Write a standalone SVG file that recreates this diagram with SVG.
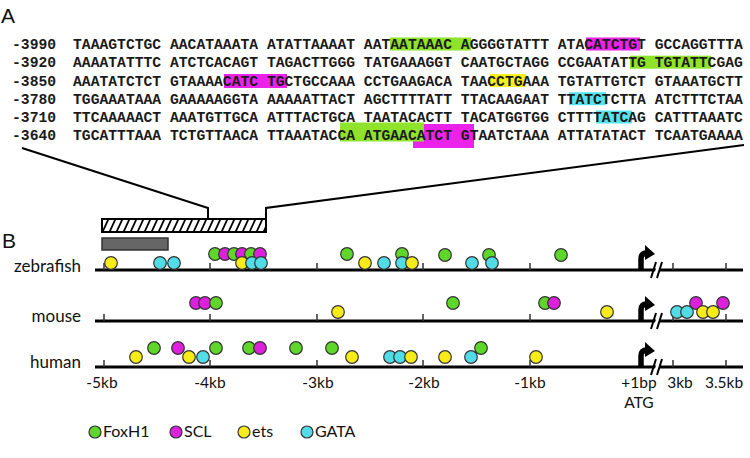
<svg xmlns="http://www.w3.org/2000/svg" width="750" height="458" viewBox="0 0 750 458">
<style>
.seq{font-family:"Liberation Mono","Courier New",monospace;font-weight:bold;font-size:14.7px;fill:#1a1a1a;white-space:pre}
.lab{font-family:Lato,"Open Sans",sans-serif;font-size:15.5px;fill:#111}
.tl{font-size:17px}
.lg{font-size:16px}
.big{font-family:"Liberation Sans",Arial,sans-serif;font-size:21px;fill:#111}
.hg{fill:#8fe32a}.hm{fill:#ea22ea}.hy{fill:#f4ef1e}.hc{fill:#55e3ee}
.c{stroke:#333;stroke-width:1.2}
.g{fill:#5fd62a}.m{fill:#dc20dc}.y{fill:#f7ec1a}.cy{fill:#52dce6}
.track{stroke:#000;stroke-width:3}
.tick{stroke:#333;stroke-width:1.5}
.conn{stroke:#000;stroke-width:2;fill:none}
</style>
<defs>
<pattern id="hatch" patternUnits="userSpaceOnUse" x="102" y="219" width="7" height="13">
<rect width="7" height="13" fill="#fff"/>
<path d="M0.5,13 L6.5,0" stroke="#000" stroke-width="1.8"/>
</pattern>
<g id="arrow">
<path d="M0,0 V-10 Q0,-16 6,-16" stroke="#000" stroke-width="5.5" fill="none"/>
<polygon points="4,-24 14,-15 4,-9" fill="#000"/>
</g>
<g id="brk">
<polygon points="653,278 658,262 662,262 657,278" fill="#fff"/>
<path d="M651,278 L656,262 M657,278 L662,262" stroke="#000" stroke-width="2"/>
</g>
</defs>
<rect width="750" height="458" fill="#fff"/>

<g id="panelA">
<text class="big" x="1" y="23">A</text>
<g id="highlights">
<rect class="hg" x="390" y="37.5" width="81" height="13"/>
<rect class="hm" x="586" y="37.5" width="54" height="13"/>
<rect class="hg" x="630" y="55.7" width="81" height="13"/>
<rect class="hm" x="224" y="74" width="63" height="14"/>
<rect class="hy" x="490" y="74" width="36" height="13"/>
<rect class="hc" x="569" y="92.2" width="37" height="13"/>
<rect class="hc" x="596" y="110.5" width="36" height="13"/>
<rect class="hm" x="413" y="124" width="61" height="24"/>
<rect class="hg" x="340" y="122.5" width="84" height="19"/>
</g>
<g id="sequence">
<text class="seq" x="12" y="49">-3990</text>
<text class="seq" x="12" y="67.2">-3920</text>
<text class="seq" x="12" y="85.5">-3850</text>
<text class="seq" x="12" y="103.7">-3780</text>
<text class="seq" x="12" y="122">-3710</text>
<text class="seq" x="12" y="140.2">-3640</text>
<text class="seq" x="73" y="49">TAAAGTCTGC AACATAAATA ATATTAAAAT AATAATAAAC AGGGGTATTT ATACATCTGT GCCAGGTTTA</text>
<text class="seq" x="73" y="67.2">AAAATATTTC ATCTCACAGT TAGACTTGGG TATGAAAGGT CAATGCTAGG CCGAATATTG TGTATTCGAG</text>
<text class="seq" x="73" y="85.5">AAATATCTCT GTAAAACATC TGCTGCCAAA CCTGAAGACA TAACCTGAAA TGTATTGTCT GTAAATGCTT</text>
<text class="seq" x="73" y="103.7">TGGAAATAAA GAAAAAGGTA AAAAATTACT AGCTTTTATT TTACAAGAAT TTATCTCTTA ATCTTTCTAA</text>
<text class="seq" x="73" y="122">TTCAAAAACT AAATGTTGCA ATTTACTGCA TAATACACTT TACATGGTGG CTTTTATCAG CATTTAAATC</text>
<text class="seq" x="73" y="140.2">TGCATTTAAA TCTGTTAACA TTAAATACCA ATGAACATCT GTAATCTAAA ATTATATACT TCAATGAAAA</text>
</g>
</g>

<g id="connectors">
<path class="conn" d="M22,148 L208,208 L208,219"/>
<path class="conn" d="M744,145 L266,208 L266,219"/>
</g>

<g id="panelB">
<text class="big" x="2" y="248">B</text>
<rect id="hatched-box" x="102" y="219" width="164" height="13" fill="url(#hatch)" stroke="#000" stroke-width="2"/>
<rect id="gray-box" x="102" y="238" width="66" height="12" fill="#666" stroke="#333" stroke-width="1.5"/>

<g id="zebrafish">
<text class="lab tl" x="81" y="272" text-anchor="end">zebrafish</text>
<line class="track" x1="95" y1="270" x2="743" y2="270"/>
<path class="tick" d="M104,270V263M210,270V263M317,270V263M423,270V263M530,270V263M673,270V263M726,270V263"/>
<use href="#arrow" x="641" y="269"/>
<use href="#brk" y="0"/>
<circle class="c g" cx="215" cy="254" r="6.3"/>
<circle class="c m" cx="225" cy="254" r="6.3"/>
<circle class="c g" cx="234" cy="254" r="6.3"/>
<circle class="c m" cx="242" cy="254" r="6.3"/>
<circle class="c g" cx="251" cy="254" r="6.3"/>
<circle class="c m" cx="260" cy="254" r="6.3"/>
<circle class="c g" cx="347" cy="254" r="6.3"/>
<circle class="c g" cx="402" cy="254" r="6.3"/>
<circle class="c g" cx="445" cy="255" r="6.3"/>
<circle class="c g" cx="489" cy="255" r="6.3"/>
<circle class="c g" cx="561" cy="255" r="6.3"/>
<circle class="c y" cx="111" cy="263" r="6.3"/>
<circle class="c cy" cx="160" cy="263" r="6.3"/>
<circle class="c cy" cx="174" cy="263" r="6.3"/>
<circle class="c y" cx="242" cy="263" r="6.3"/>
<circle class="c cy" cx="252" cy="263" r="6.3"/>
<circle class="c cy" cx="261" cy="263" r="6.3"/>
<circle class="c y" cx="365" cy="263" r="6.3"/>
<circle class="c cy" cx="384" cy="263" r="6.3"/>
<circle class="c cy" cx="402" cy="263" r="6.3"/>
<circle class="c y" cx="412" cy="263" r="6.3"/>
<circle class="c cy" cx="472" cy="263" r="6.3"/>
<circle class="c cy" cx="492" cy="263" r="6.3"/>
</g>

<g id="mouse">
<text class="lab tl" x="81" y="322" text-anchor="end">mouse</text>
<line class="track" x1="95" y1="321" x2="743" y2="321"/>
<path class="tick" d="M104,321V314M210,321V314M317,321V314M423,321V314M530,321V314M673,321V314M726,321V314"/>
<use href="#arrow" x="641" y="320"/>
<use href="#brk" y="51"/>
<circle class="c m" cx="196" cy="303" r="6.3"/>
<circle class="c m" cx="205" cy="303" r="6.3"/>
<circle class="c g" cx="216" cy="303" r="6.3"/>
<circle class="c g" cx="453" cy="303" r="6.3"/>
<circle class="c g" cx="545" cy="303" r="6.3"/>
<circle class="c m" cx="554" cy="303" r="6.3"/>
<circle class="c m" cx="696" cy="303" r="6.3"/>
<circle class="c m" cx="723" cy="303" r="6.3"/>
<circle class="c y" cx="338" cy="312" r="6.3"/>
<circle class="c y" cx="607" cy="312" r="6.3"/>
<circle class="c cy" cx="677" cy="312" r="6.3"/>
<circle class="c cy" cx="687" cy="312" r="6.3"/>
<circle class="c y" cx="703" cy="312" r="6.3"/>
<circle class="c y" cx="713" cy="312" r="6.3"/>
</g>

<g id="human">
<text class="lab tl" x="81" y="368" text-anchor="end">human</text>
<line class="track" x1="95" y1="367" x2="743" y2="367"/>
<path class="tick" d="M104,367V360M210,367V360M317,367V360M423,367V360M530,367V360M673,367V360M726,367V360"/>
<use href="#arrow" x="641" y="366"/>
<use href="#brk" y="97"/>
<circle class="c g" cx="154" cy="348" r="6.3"/>
<circle class="c m" cx="178" cy="348" r="6.3"/>
<circle class="c g" cx="216" cy="348" r="6.3"/>
<circle class="c g" cx="249" cy="348" r="6.3"/>
<circle class="c m" cx="260" cy="348" r="6.3"/>
<circle class="c g" cx="296" cy="348" r="6.3"/>
<circle class="c g" cx="332" cy="348" r="6.3"/>
<circle class="c g" cx="481" cy="348" r="6.3"/>
<circle class="c y" cx="136" cy="357" r="6.3"/>
<circle class="c y" cx="189" cy="357" r="6.3"/>
<circle class="c cy" cx="203" cy="357" r="6.3"/>
<circle class="c y" cx="352" cy="357" r="6.3"/>
<circle class="c cy" cx="390" cy="357" r="6.3"/>
<circle class="c cy" cx="400" cy="357" r="6.3"/>
<circle class="c y" cx="411" cy="357" r="6.3"/>
<circle class="c y" cx="445" cy="357" r="6.3"/>
<circle class="c cy" cx="471" cy="357" r="6.3"/>
<circle class="c y" cx="536" cy="357" r="6.3"/>
</g>

<g id="axis-labels" class="lab" text-anchor="middle">
<text x="102" y="388">-5kb</text>
<text x="210" y="388">-4kb</text>
<text x="318" y="388">-3kb</text>
<text x="424" y="388">-2kb</text>
<text x="530" y="388">-1kb</text>
<text x="639" y="388">+1bp</text>
<text x="680" y="388">3kb</text>
<text x="724" y="388">3.5kb</text>
<text x="639" y="408">ATG</text>
</g>

<g id="legend">
<circle class="c g" cx="95" cy="432" r="6"/>
<text class="lab lg" x="103" y="437">FoxH1</text>
<circle class="c m" cx="176" cy="432" r="6"/>
<text class="lab lg" x="184" y="437">SCL</text>
<circle class="c y" cx="244" cy="432" r="6"/>
<text class="lab lg" x="252" y="437">ets</text>
<circle class="c cy" cx="307" cy="432" r="6"/>
<text class="lab lg" x="315" y="437">GATA</text>
</g>
</g>
</svg>
